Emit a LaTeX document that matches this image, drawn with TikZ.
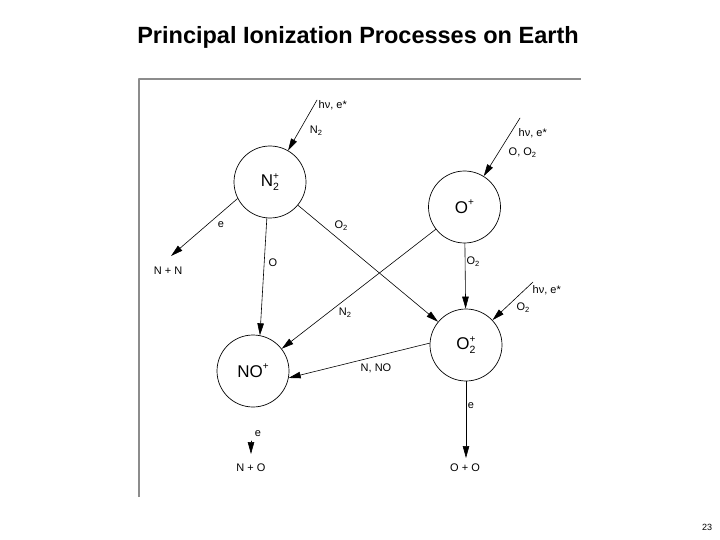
\documentclass[tikz,border=0pt]{standalone}
\usepackage{fontspec}
\setmainfont{Liberation Sans}
\usetikzlibrary{arrows.meta}
\newcommand{\smsub}[1]{\raisebox{-0.35ex}{\fontsize{7.5}{8}\selectfont #1}}
\newcommand{\ionsup}[1]{\raisebox{0.85ex}{\fontsize{10}{11}\selectfont #1}}
\newcommand{\ionsub}[1]{\raisebox{-0.45ex}{\fontsize{10.5}{11}\selectfont #1}}
\newcommand{\ionlab}[3]{#1\rlap{\ionsup{#3}}\ionsub{#2}}
\begin{document}
\begin{tikzpicture}[x=1pt,y=-1pt,>={Stealth[length=12pt,width=6.5pt,inset=0pt]},
    font=\fontsize{11}{13}\selectfont, line join=round, line cap=round]
    \tikzset{ion/.style={circle,draw,line width=0.7pt,minimum size=72pt,inner sep=0pt,font=\fontsize{17}{20}\selectfont},
      flow/.style={->,line width=0.6pt},
      lab/.style={inner sep=0.5pt}}
    \useasboundingbox (0,0) rectangle (720,540);
    \node[font=\bfseries\fontsize{23.5}{27}\selectfont] (title) at (358,37) {Principal Ionization Processes on Earth};
    % frame
    \draw[black!45,line width=1.3pt,line cap=butt] (139,497) -- (139,79) -- (581,79);
    % ions
    \node[ion] (n2p) at (270,182) {\ionlab{N}{2}{+}};
    \node[ion] (op) at (464.5,207) {O\ionsup{+}};
    \node[ion] (o2p) at (466,345) {\ionlab{O}{2}{+}};
    \node[ion] (nop) at (253,371) {NO\ionsup{+}};
    % free ends
    \coordinate (srcA) at (317,100);
    \coordinate (srcB) at (520,118);
    \coordinate (srcC) at (533,282);
    \coordinate (nnTip) at (171,256);
    \coordinate (noTail) at (251,441);
    \coordinate (noTip) at (251,454);
    \coordinate (ooTip) at (466,458);
    % products
    \node[lab] (nn) at (168,271) {N + N};
    \node[lab] (no) at (251,468) {N + O};
    \node[lab] (oo) at (465,468) {O + O};
    % reactions
    \draw[flow] (srcA) -- (n2p);
    \draw[flow] (srcB) -- (op);
    \draw[flow] (srcC) -- (o2p);
    \draw[flow] (n2p.207) -- (nnTip);
    \draw[flow] (n2p.-95) -- (nop.79);
    \draw[flow] (n2p) -- (o2p);
    \draw[flow] (op) -- (nop);
    \draw[flow] (op) -- (o2p);
    \draw[flow] (o2p.177) -- (nop.-11);
    \draw[flow] (o2p) -- (ooTip);
    \draw[flow] (noTail) -- (noTip);
    % labels
    \node[lab,anchor=west] (lhA) at (318,105) {hν, e*};
    \node[lab] (lnA) at (316,131) {N\smsub{2}};
    \node[lab,anchor=west] (lhB) at (518,133) {hν, e*};
    \node[lab,anchor=west] (loB) at (508,153) {O, O\smsub{2}};
    \node[lab,anchor=west] (lhC) at (532,290) {hν, e*};
    \node[lab] (loC) at (523,308) {O\smsub{2}};
    \node[lab] (le1) at (221,225) {e};
    \node[lab] (lO) at (273,263) {O};
    \node[lab] (lo2a) at (341,226) {O\smsub{2}};
    \node[lab] (ln2) at (345,313) {N\smsub{2}};
    \node[lab] (lo2b) at (473,262) {O\smsub{2}};
    \node[lab] (lnno) at (376,368) {N, NO};
    \node[lab] (le2) at (471,406) {e};
    \node[lab] (le3) at (258,434) {e};
    \node[font=\fontsize{9}{11}\selectfont] (page) at (707,527) {23};
\end{tikzpicture}
\end{document}
